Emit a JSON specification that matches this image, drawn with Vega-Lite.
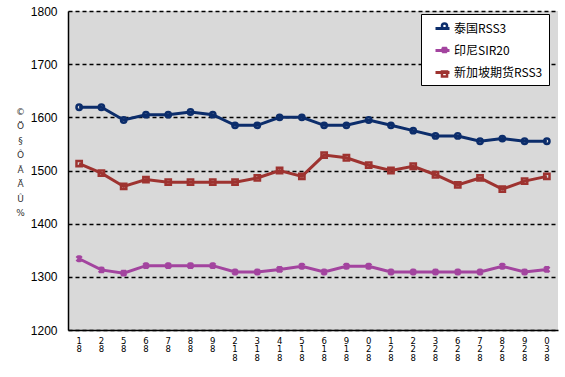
{
  "$schema": "https://vega.github.io/schema/vega-lite/v6.json",
  "width": 490,
  "height": 319,
  "autosize": {"type": "none"},
  "padding": {"left": 68, "top": 11, "right": 7, "bottom": 47},
  "background": "#ffffff",
  "config": {
    "view": {"fill": "#d9d9d9", "stroke": null},
    "font": "Liberation Sans"
  },
  "data": {
    "values": [
      {"d": "18", "s": "泰国RSS3", "v": 1619}, {"d": "28", "s": "泰国RSS3", "v": 1619}, {"d": "58", "s": "泰国RSS3", "v": 1595}, {"d": "68", "s": "泰国RSS3", "v": 1605}, {"d": "78", "s": "泰国RSS3", "v": 1605}, {"d": "88", "s": "泰国RSS3", "v": 1610}, {"d": "98", "s": "泰国RSS3", "v": 1605}, {"d": "218", "s": "泰国RSS3", "v": 1585}, {"d": "318", "s": "泰国RSS3", "v": 1585}, {"d": "418", "s": "泰国RSS3", "v": 1600}, {"d": "518", "s": "泰国RSS3", "v": 1600}, {"d": "618", "s": "泰国RSS3", "v": 1585}, {"d": "918", "s": "泰国RSS3", "v": 1585}, {"d": "028", "s": "泰国RSS3", "v": 1595}, {"d": "128", "s": "泰国RSS3", "v": 1585}, {"d": "228", "s": "泰国RSS3", "v": 1575}, {"d": "328", "s": "泰国RSS3", "v": 1565}, {"d": "628", "s": "泰国RSS3", "v": 1565}, {"d": "728", "s": "泰国RSS3", "v": 1555}, {"d": "828", "s": "泰国RSS3", "v": 1560}, {"d": "928", "s": "泰国RSS3", "v": 1555}, {"d": "038", "s": "泰国RSS3", "v": 1555},
      {"d": "18", "s": "印尼SIR20", "v": 1334}, {"d": "28", "s": "印尼SIR20", "v": 1313}, {"d": "58", "s": "印尼SIR20", "v": 1307}, {"d": "68", "s": "印尼SIR20", "v": 1321}, {"d": "78", "s": "印尼SIR20", "v": 1321}, {"d": "88", "s": "印尼SIR20", "v": 1321}, {"d": "98", "s": "印尼SIR20", "v": 1321}, {"d": "218", "s": "印尼SIR20", "v": 1309}, {"d": "318", "s": "印尼SIR20", "v": 1309}, {"d": "418", "s": "印尼SIR20", "v": 1314}, {"d": "518", "s": "印尼SIR20", "v": 1320}, {"d": "618", "s": "印尼SIR20", "v": 1309}, {"d": "918", "s": "印尼SIR20", "v": 1320}, {"d": "028", "s": "印尼SIR20", "v": 1320}, {"d": "128", "s": "印尼SIR20", "v": 1309}, {"d": "228", "s": "印尼SIR20", "v": 1309}, {"d": "328", "s": "印尼SIR20", "v": 1309}, {"d": "628", "s": "印尼SIR20", "v": 1309}, {"d": "728", "s": "印尼SIR20", "v": 1309}, {"d": "828", "s": "印尼SIR20", "v": 1320}, {"d": "928", "s": "印尼SIR20", "v": 1309}, {"d": "038", "s": "印尼SIR20", "v": 1314},
      {"d": "18", "s": "新加坡期货RSS3", "v": 1513}, {"d": "28", "s": "新加坡期货RSS3", "v": 1495}, {"d": "58", "s": "新加坡期货RSS3", "v": 1470}, {"d": "68", "s": "新加坡期货RSS3", "v": 1483}, {"d": "78", "s": "新加坡期货RSS3", "v": 1478}, {"d": "88", "s": "新加坡期货RSS3", "v": 1478}, {"d": "98", "s": "新加坡期货RSS3", "v": 1478}, {"d": "218", "s": "新加坡期货RSS3", "v": 1478}, {"d": "318", "s": "新加坡期货RSS3", "v": 1486}, {"d": "418", "s": "新加坡期货RSS3", "v": 1500}, {"d": "518", "s": "新加坡期货RSS3", "v": 1489}, {"d": "618", "s": "新加坡期货RSS3", "v": 1529}, {"d": "918", "s": "新加坡期货RSS3", "v": 1524}, {"d": "028", "s": "新加坡期货RSS3", "v": 1510}, {"d": "128", "s": "新加坡期货RSS3", "v": 1500}, {"d": "228", "s": "新加坡期货RSS3", "v": 1508}, {"d": "328", "s": "新加坡期货RSS3", "v": 1492}, {"d": "628", "s": "新加坡期货RSS3", "v": 1473}, {"d": "728", "s": "新加坡期货RSS3", "v": 1486}, {"d": "828", "s": "新加坡期货RSS3", "v": 1465}, {"d": "928", "s": "新加坡期货RSS3", "v": 1480}, {"d": "038", "s": "新加坡期货RSS3", "v": 1489}
    ]
  },
  "encoding": {
    "x": {
      "field": "d", "type": "nominal", "sort": null,
      "scale": {"type": "band", "paddingInner": 0, "paddingOuter": 0},
      "axis": {
        "title": null, "labelAngle": 0, "labelExpr": "split(datum.label, '')",
        "labelFont": "DejaVu Sans", "labelFontSize": 8.5, "labelLineHeight": 8.5, "labelColor": "#000",
        "labelBaseline": "top", "labelPadding": 6,
        "domainColor": "#000", "domainWidth": 1.5,
        "ticks": false,
        "grid": false
      }
    },
    "y": {
      "field": "v", "type": "quantitative",
      "scale": {"domain": [1200, 1800], "nice": false, "zero": false},
      "axis": {
        "values": [1200, 1300, 1400, 1500, 1600, 1700, 1800], "format": "d",
        "labelFont": "Liberation Sans", "labelFontSize": 12, "labelColor": "#000", "labelPadding": 11,
        "ticks": false, "domainColor": "#000", "domainWidth": 1.5,
        "grid": true, "gridColor": "#000", "gridDash": [4, 3], "gridWidth": 1.5,
        "title": ["©", "Ö", "§", "Ô", "Ã", "Ä", "Û", "%"],
        "titleAngle": 0, "titleX": -48, "titleY": 96, "titleAlign": "center", "titleBaseline": "top",
        "titleFont": "DejaVu Sans", "titleFontSize": 9, "titleFontWeight": "normal", "titleLineHeight": 14.5, "titleColor": "#333"
      }
    }
  },
  "layer": [
    {
      "mark": {"type": "line", "strokeWidth": 3},
      "encoding": {
        "stroke": {
          "field": "s", "type": "nominal", "sort": null,
          "scale": {"range": ["#0c2d6b", "#a3449f", "#9e3330"]},
          "legend": {
            "title": null, "orient": "none", "legendX": 353, "legendY": 3,
            "symbolType": "M-1,0L1,0", "symbolSize": 196, "symbolStrokeWidth": 3, "symbolOffset": 7,
            "labelFont": "Noto Sans CJK SC", "labelFontSize": 12, "labelColor": "#000", "labelOffset": 3,
            "rowPadding": 7, "padding": 6,
            "fillColor": "#ffffff", "strokeColor": "#000000"
          }
        }
      }
    },
    {
      "mark": {"type": "point", "filled": false, "strokeWidth": 2.5, "size": 28, "opacity": 1},
      "encoding": {
        "color": {
          "field": "s", "type": "nominal",
          "scale": {"domain": ["泰国RSS3", "印尼SIR20", "新加坡期货RSS3"], "range": ["#0c2d6b", "#a3449f", "#9e3330"]},
          "legend": {
            "title": null, "orient": "none", "legendX": 364.5, "legendY": 3,
            "symbolSize": 26, "symbolStrokeWidth": 2.5,
            "labelFont": "Noto Sans CJK SC", "labelFontSize": 12, "labelExpr": "''", "labelOffset": 3,
            "rowPadding": 7, "padding": 6
          }
        },
        "shape": {
          "field": "s", "type": "nominal",
          "scale": {"domain": ["泰国RSS3", "印尼SIR20", "新加坡期货RSS3"], "range": ["circle", "M-1,-1L1,1M-1,1L1,-1M0,-1.3L0,1.3", "square"]},
          "legend": {
            "title": null, "orient": "none", "legendX": 364.5, "legendY": 3,
            "symbolSize": 26, "symbolStrokeWidth": 2.5,
            "labelFont": "Noto Sans CJK SC", "labelFontSize": 12, "labelExpr": "''", "labelOffset": 3,
            "rowPadding": 7, "padding": 6
          }
        }
      }
    }
  ]
}
